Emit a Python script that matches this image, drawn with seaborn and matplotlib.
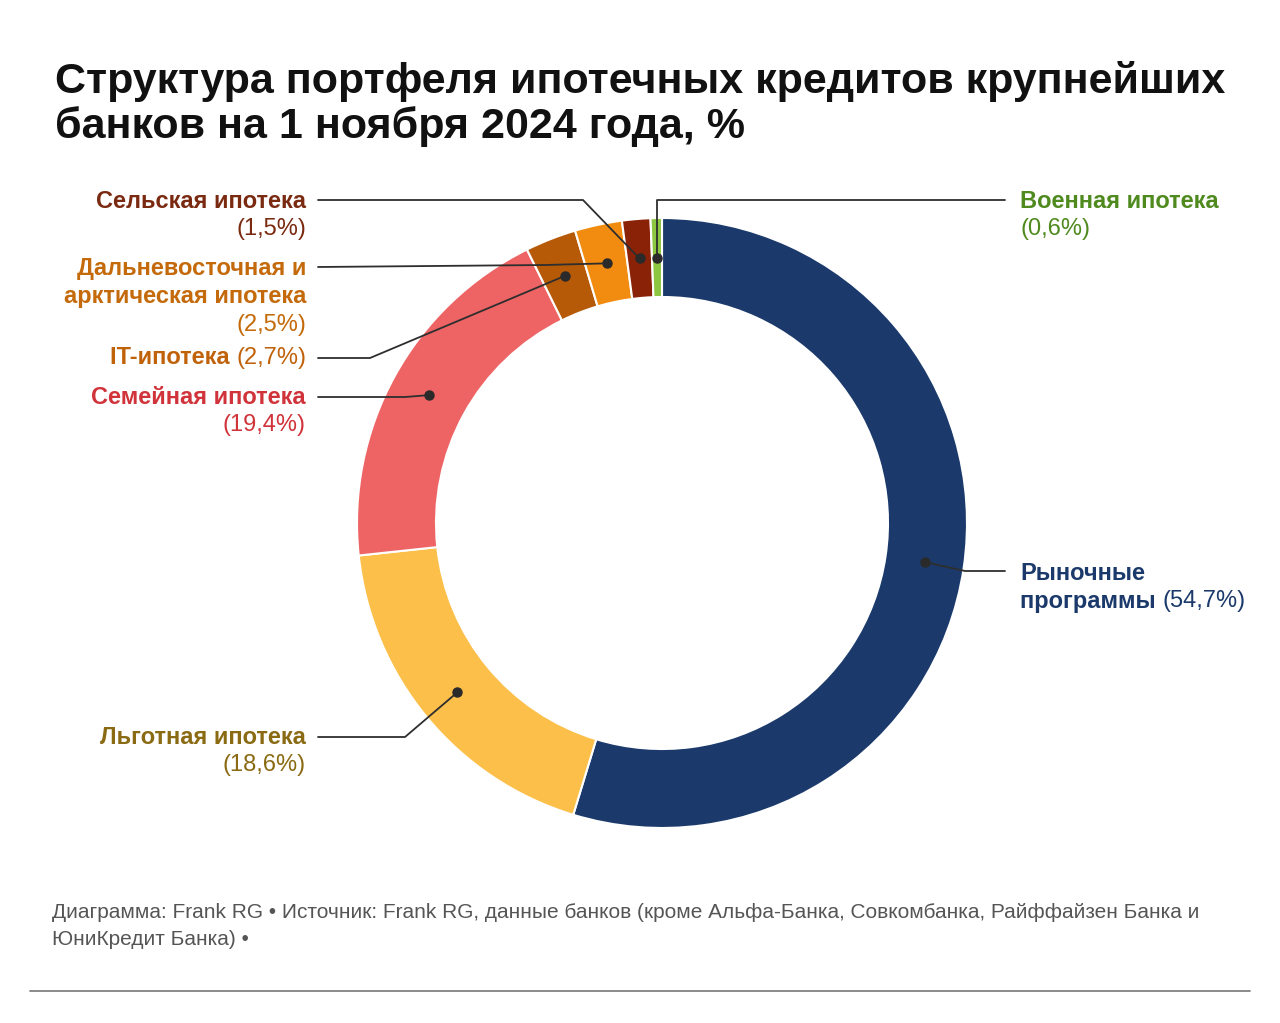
import numpy as np
import seaborn as sns
import matplotlib.pyplot as plt

# data
categories = ["Рыночные программы", "Льготная ипотека", "Семейная ипотека", "IT-ипотека",
              "Дальневосточная и арктическая ипотека", "Сельская ипотека", "Военная ипотека"]
shares = [54.7, 18.6, 19.4, 2.7, 2.5, 1.5, 0.6]
slice_colors = ["#1b3a6b", "#fbbf4a", "#ee6464", "#b65a08", "#f28c10", "#8a2208", "#8dc641"]
text_colors = ["#1b3a6b", "#8a6a12", "#d0343a", "#c0620a", "#c46a0a", "#7a2a10", "#4f8a1e"]

title_lines = ["Структура портфеля ипотечных кредитов крупнейших",
               "банков на 1 ноября 2024 года, %"]
footer_lines = ["Диаграмма: Frank RG • Источник: Frank RG, данные банков (кроме Альфа-Банка, Совкомбанка, Райффайзен Банка и",
                "ЮниКредит Банка) •"]

pct = ["(" + f"{s:.1f}".replace(".", ",") + "%)" for s in shares]

# label lines: list of segments (text, bold)
label_lines = [
    [[("Рыночные", True)], [("программы ", True), (pct[0], False)]],
    [[("Льготная ипотека", True)], [(pct[1], False)]],
    [[("Семейная ипотека", True)], [(pct[2], False)]],
    [[("IT-ипотека ", True), (pct[3], False)]],
    [[("Дальневосточная и", True)], [("арктическая ипотека", True)], [(pct[4], False)]],
    [[("Сельская ипотека", True)], [(pct[5], False)]],
    [[("Военная ипотека", True)], [(pct[6], False)]],
]
# side, x anchor, first line y (image px)
label_pos = [("left", 1020, 573), ("right", 306, 737), ("right", 306, 397), ("right", 306, 358),
             ("right", 306, 268), ("right", 306, 201), ("left", 1020, 201)]
# connector points from label to elbow (image px); None x -> use dot x
connectors = [
    [(1005, 571), (965, 571)],
    [(318, 737), (405, 737)],
    [(318, 397), (405, 397)],
    [(318, 358), (370, 358)],
    [(318, 267), (545, 265)],
    [(318, 200), (583, 200)],
    [(1005, 200), (None, 200)],
]

W, H = 1280, 1023
sns.set_theme(style="white")
plt.rcParams["font.family"] = ["Liberation Sans", "DejaVu Sans"]

fig = plt.figure(figsize=(12.8, 10.23), dpi=100)
ax = fig.add_axes([0, 0, 1, 1])

cx, cy, R, ring = 662, 523, 305, 79
wedges, _ = ax.pie(shares, colors=slice_colors, startangle=90, counterclock=False,
                   radius=R, center=(cx, H - cy),
                   wedgeprops=dict(width=ring, edgecolor="white", linewidth=1.5))
ax.set_xlim(0, W)
ax.set_ylim(0, H)
ax.set_aspect("equal")
ax.axis("off")


def Y(y):
    return H - y


# connectors and dots
rd = R - ring / 2
for i, w in enumerate(wedges):
    th = np.deg2rad((w.theta1 + w.theta2) / 2)
    dx, dy = cx + rd * np.cos(th), cy - rd * np.sin(th)
    pts = [(dx if x is None else x, y) for x, y in connectors[i]] + [(dx, dy)]
    xs = [p[0] for p in pts]
    ys = [Y(p[1]) for p in pts]
    ax.plot(xs, ys, color="#2e2e2e", lw=1.3, solid_capstyle="round", zorder=5)
    ax.plot([dx], [Y(dy)], "o", ms=6.5, color="#2a2a2a", zorder=6)

renderer = fig.canvas.get_renderer()
fs = 17
lh = 28.5
for i, lines in enumerate(label_lines):
    side, x0, y0 = label_pos[i]
    for k, segs in enumerate(lines):
        y = Y(y0 + k * lh)
        order = segs[::-1] if side == "right" else segs
        x = x0
        for txt, bold in order:
            t = ax.text(x, y, txt, ha=side, va="center", fontsize=fs,
                        fontweight="bold" if bold else "normal", color=text_colors[i])
            bb = t.get_window_extent(renderer)
            x = bb.x0 if side == "right" else bb.x1

for k, line in enumerate(title_lines):
    ax.text(55, Y(93 + k * 45), line, fontsize=31, fontweight="bold", color="#111111",
            ha="left", va="baseline")
for k, line in enumerate(footer_lines):
    ax.text(52, Y(918 + k * 27), line, fontsize=15, color="#555555", ha="left", va="baseline")
ax.plot([30, 1250], [Y(991), Y(991)], color="#777777", lw=1.2)

fig.savefig("out.png", dpi=100, facecolor="white")
